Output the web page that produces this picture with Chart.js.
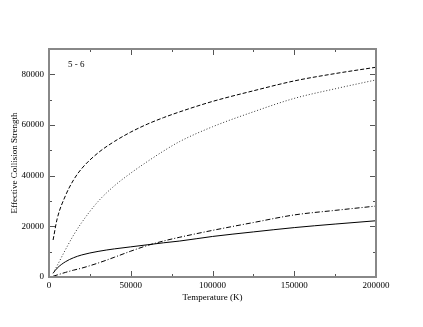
<!DOCTYPE html>
<html>
<head>
<meta charset="utf-8">
<script src="https://cdn.jsdelivr.net/npm/chart.js@4"></script>
<style>
  html, body { margin: 0; padding: 0; background: #fff; }
  #wrap { width: 423px; height: 327px; }
</style>
</head>
<body>
<div id="wrap"><canvas id="chart" width="423" height="327"></canvas></div>
<script>
// Temperatures (K) where each curve is read
const temps = [2500, 5000, 10000, 15000, 20000, 30000, 40000, 50000, 60000, 70000, 80000, 100000, 125000, 150000, 175000, 200000];

// Effective collision strength, one array per line style
const dashedVals  = [14600, 23000, 32000, 38300, 42800, 49000, 53500, 57200, 60300, 62900, 65200, 69300, 73500, 77400, 80300, 82800];
const dottedVals  = [1500, 4500, 10700, 16500, 21500, 29800, 36000, 41000, 45500, 49700, 53500, 59300, 65200, 70500, 74300, 77800];
const solidVals   = [1500, 3500, 6000, 7600, 8700, 10100, 11100, 11900, 12700, 13500, 14200, 16000, 17800, 19500, 20900, 22200];
const dashDotVals = [300, 800, 1800, 2700, 3500, 5500, 7800, 10200, 12400, 14200, 15700, 18400, 21500, 24500, 26300, 28000];

const xTickLabels = [0, 50000, 100000, 150000, 200000];
const yTickLabels = [0, 20000, 40000, 60000, 80000];
const panelLabel = '5 - 6';

const FONT = '"Liberation Serif", "DejaVu Serif", serif';

function pts(vals) {
  return temps.map((t, i) => ({ x: t, y: vals[i] }));
}

function series(vals, dash, color) {
  return {
    data: pts(vals),
    borderColor: color || '#000',
    borderWidth: 1,
    borderDash: dash,
    pointRadius: 0,
    cubicInterpolationMode: 'monotone',
    fill: false
  };
}

// Frame, inward ticks on all sides, and the panel label
const framePlugin = {
  id: 'frame',
  afterDraw(chart) {
    const { ctx, chartArea: a, scales } = chart;
    const xs = scales.x, ys = scales.y;
    ctx.save();
    ctx.strokeStyle = '#555';
    ctx.lineWidth = 1;
    for (let v = 0; v <= 200000; v += 25000) {
      const px = Math.round(xs.getPixelForValue(v)) + 0.5;
      const len = v % 50000 === 0 ? 6 : 3;
      ctx.beginPath();
      ctx.moveTo(px, a.bottom); ctx.lineTo(px, a.bottom - len);
      ctx.moveTo(px, a.top); ctx.lineTo(px, a.top + len);
      ctx.stroke();
    }
    for (let v = 0; v <= 90000; v += 10000) {
      const py = Math.round(ys.getPixelForValue(v)) + 0.5;
      const len = v % 20000 === 0 ? 6 : 3;
      ctx.beginPath();
      ctx.moveTo(a.left, py); ctx.lineTo(a.left + len, py);
      ctx.moveTo(a.right, py); ctx.lineTo(a.right - len, py);
      ctx.stroke();
    }
    ctx.strokeStyle = '#888';
    ctx.lineWidth = 2;
    ctx.strokeRect(a.left, a.top, a.right - a.left, a.bottom - a.top);
    ctx.fillStyle = '#000';
    ctx.font = '9px ' + FONT;
    ctx.textBaseline = 'middle';
    ctx.fillText(panelLabel, a.left + 19, a.top + 16);
    ctx.restore();
  }
};

new Chart(document.getElementById('chart'), {
  type: 'line',
  data: {
    datasets: [
      series(dashedVals, [4, 2]),
      series(dottedVals, [1, 2], '#333'),
      series(solidVals, []),
      series(dashDotVals, [5, 2, 1, 2])
    ]
  },
  options: {
    responsive: false,
    animation: false,
    layout: { padding: { left: 0, top: 49, right: 47, bottom: 0 } },
    plugins: { legend: { display: false }, tooltip: { enabled: false } },
    scales: {
      x: {
        type: 'linear',
        min: 0,
        max: 200000,
        afterFit(s) { s.height = 50; },
        afterBuildTicks(s) { s.ticks = xTickLabels.map(v => ({ value: v })); },
        grid: { display: false, drawTicks: false },
        border: { display: false },
        ticks: { color: '#000', font: { family: FONT, size: 9 }, padding: 3, maxRotation: 0, autoSkip: false, callback: v => String(v) },
        title: { display: true, text: 'Temperature (K)', color: '#000', font: { family: FONT, size: 9 }, padding: { top: 0, bottom: 24 } }
      },
      y: {
        type: 'linear',
        min: 0,
        max: 90000,
        afterFit(s) { s.width = 49; },
        afterBuildTicks(s) { s.ticks = yTickLabels.map(v => ({ value: v })); },
        grid: { display: false, drawTicks: false },
        border: { display: false },
        ticks: { color: '#000', font: { family: FONT, size: 9 }, padding: 5, callback: v => String(v) },
        title: { display: true, text: 'Effective Collision Strength', color: '#000', font: { family: FONT, size: 9 }, padding: { top: 9, bottom: 0 } }
      }
    }
  },
  plugins: [framePlugin]
});
</script>
</body>
</html>
